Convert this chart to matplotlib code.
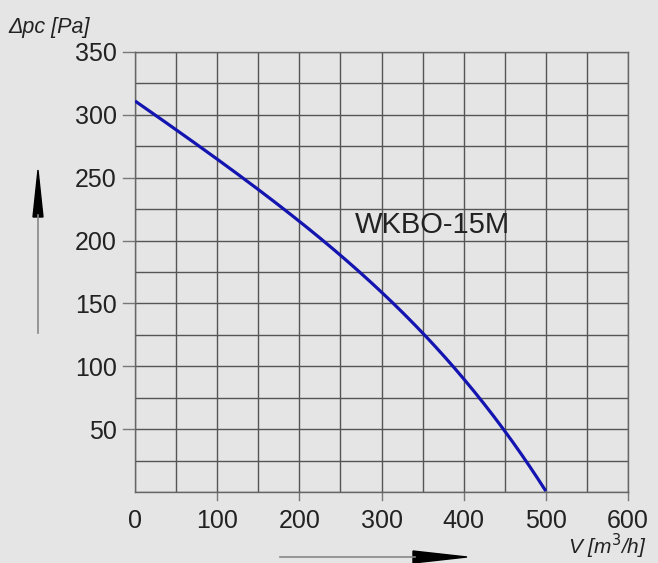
import matplotlib
matplotlib.use("Agg")
import matplotlib.pyplot as plt
from matplotlib.patches import Polygon
from matplotlib.lines import Line2D
import numpy as np

flow = [0, 50, 100, 150, 200, 250, 300, 350, 400, 450, 500]
pressure = [312, 286, 265, 242, 216, 188, 158, 126, 90, 50, 0]
x_ticks = [0, 100, 200, 300, 400, 500, 600]
y_ticks = [50, 100, 150, 200, 250, 300, 350]
curve_label = "WKBO-15M"

bg = "#e5e5e5"
plt.rcParams['font.family'] = ['Liberation Sans', 'DejaVu Sans']

fig = plt.figure(figsize=(6.58, 5.63), dpi=100, facecolor=bg)
W, H = 658, 563
ax = fig.add_axes([135 / W, 1 - 492 / H, (628 - 135) / W, (492 - 52) / H])
ax.set_facecolor(bg)

# smooth curve through read points
xs = np.linspace(0, 500, 300)
coef = np.polyfit(flow, pressure, 4)
ys = np.polyval(coef, xs)
ax.plot(xs, ys, color="#1414b0", lw=2.3, solid_capstyle='butt', zorder=3)

ax.set_xlim(0, 600)
ax.set_ylim(0, 350)
ax.set_xticks(np.arange(0, 601, 50))
ax.set_yticks(np.arange(0, 351, 25))
ax.grid(True, color="#555555", lw=1.0)
ax.set_axisbelow(True)
for s in ax.spines.values():
    s.set_color("#666666")
    s.set_linewidth(1.0)

ax.set_xticklabels([str(v) if v in x_ticks else "" for v in np.arange(0, 601, 50)])
ax.set_yticklabels([str(v) if v in y_ticks else "" for v in np.arange(0, 351, 25)])
ax.tick_params(axis='both', which='both', length=0, labelsize=18, colors="#222222")
ax.tick_params(axis='x', pad=12)
ax.tick_params(axis='y', pad=13)

# outward ticks for major labels
for v in x_ticks[1:]:
    ax.plot([v, v], [0, -8 / 1.257], color="#777777", lw=1, clip_on=False)
for v in y_ticks:
    ax.plot([0, -12 / 0.822], [v, v], color="#777777", lw=1, clip_on=False)

ax.text(268, 212, curve_label, fontsize=21, color="#222222", va='center', ha='left')

fig.text(8 / W, 1 - 27 / H, "Δpc [Pa]", fontsize=15.5, style='italic', color="#222222", va='center', ha='left')
fig.text(647 / W, 1 - 546 / H, "V [m$^3$/h]", fontsize=15, style='italic', color="#222222", va='center', ha='right')

# vertical arrow
fig.add_artist(Line2D([38 / W, 38 / W], [1 - 333 / H, 1 - 215 / H], color="#888888", lw=1.2))
fig.add_artist(Polygon([[33 / W, 1 - 217 / H], [43 / W, 1 - 217 / H], [38 / W, 1 - 170 / H]],
                       closed=True, color="black", transform=fig.transFigure))
# horizontal arrow
fig.add_artist(Line2D([280 / W, 415 / W], [1 - 557 / H, 1 - 557 / H], color="#888888", lw=1.2))
fig.add_artist(Polygon([[413 / W, 1 - 551 / H], [413 / W, 1 - 563 / H], [467 / W, 1 - 557 / H]],
                       closed=True, color="black", transform=fig.transFigure))

fig.savefig("out.png", dpi=100, facecolor=bg)
